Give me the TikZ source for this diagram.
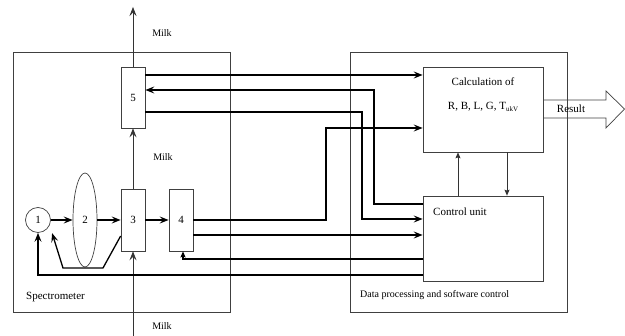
\documentclass[tikz,border=0pt]{standalone}
\usepackage{fontspec}
\setmainfont{Liberation Serif}
\usetikzlibrary{arrows.meta,shapes.geometric,calc}
\begin{document}
\begin{tikzpicture}[x=1pt,y=-1pt,
  thinbox/.style={draw=black!75,line width=0.7pt,inner sep=0pt},
  sig/.style={line width=1.3pt},
  tip/.style={-{Stealth[length=9pt,width=7pt,inset=3.5pt]}},
  smalltip/.style={-{Stealth[length=6pt,width=5pt,inset=1pt]}},
  flow/.style={draw=black!80,line width=0.7pt},
  lab/.style={font=\fontsize{11}{13}\selectfont,inner sep=0pt},
  slab/.style={font=\fontsize{10}{12}\selectfont,inner sep=0pt}]
\useasboundingbox (0,0) rectangle (625,336);
% outer boxes
\node[thinbox,minimum width=217pt,minimum height=260pt,anchor=north west] (spec) at (13,52) {};
\node[thinbox,minimum width=217pt,minimum height=260pt,anchor=north west] (data) at (350,52) {};
% spectrometer parts
\node[thinbox,circle,minimum size=25pt,lab] (c1) at (38,220) {1};
\node[thinbox,ellipse,minimum width=24pt,minimum height=94pt,lab] (e2) at (85,220) {2};
\node[thinbox,minimum width=24pt,minimum height=62pt,lab] (b3) at (133,220) {3};
\node[thinbox,minimum width=24pt,minimum height=62pt,lab] (b4) at (181,220) {4};
\node[thinbox,minimum width=24pt,minimum height=61pt,lab] (b5) at (133,97.5) {5};
% processing parts
\node[thinbox,minimum width=120pt,minimum height=85pt] (calc) at (483,109.5) {};
\node[thinbox,minimum width=120pt,minimum height=85pt] (ctrl) at (483,238.5) {};
\node[lab] (calct1) at (483,82) {Calculation of};
\node[lab] (calct2) at (483,107) {R, B, L, G, T\raisebox{-0.35ex}{\fontsize{7}{8}\selectfont ukV}};
\node[lab,anchor=west] (ctrlt) at (433,212) {Control unit};
\node[lab,anchor=west] (spect) at (26,297) {Spectrometer};
\node[slab,anchor=west] (datat) at (360,295) {Data processing and software control};
% result arrow
\draw[thinbox] (calc.east |- 0,100) -- (606,100) -- (606,91) -- (624.5,109) -- (606,128) -- (606,118) -- (calc.east |- 0,118);
\node[lab] (res) at (571,109) {Result};
% milk flow
\coordinate (mtop) at (133,7);
\coordinate (mbot) at (133,336);
\draw[flow,tip] (b5.north) -- (mtop);
\draw[flow,tip] (b3.north) -- (b5.south);
\draw[flow,tip] (mbot) -- (b3.south);
\node[slab] (milk1) at (162,33) {Milk};
\node[slab] (milk2) at (163,157) {Milk};
\node[slab] (milk3) at (162,326) {Milk};
% spectrometer signal chain
\draw[sig,tip] (c1.east) -- (e2.west);
\draw[sig,tip] (e2.east) -- (b3.west);
\draw[sig,tip] (b3.east) -- (b4.west);
\draw[sig,tip] (b3.west |- 0,236) -- (103,268) -- (63,268) -- ($(c1.south east)+(5,4)$);
% connections
\draw[sig,tip] (b5.east |- 0,75) -- (calc.west |- 0,75);
\draw[sig,tip] (ctrl.west |- 0,204) -- (374,204) -- (374,90) -- (b5.east |- 0,90);
\draw[sig,tip] (b5.east |- 0,112) -- (362,112) -- (362,219) -- (ctrl.west |- 0,219);
\draw[sig,tip] (b4.east |- 0,220) -- (326,220) -- (326,128) -- (calc.west |- 0,128);
\draw[sig,tip] (b4.east |- 0,235) -- (ctrl.west |- 0,235);
\draw[sig,smalltip] (ctrl.west |- 0,259) -- (183,259) -- ($(b4.south)+(2,0)$);
\draw[sig,tip] (ctrl.west |- 0,275) -- (38,275) -- (c1.south);
\draw[flow,smalltip] (ctrl.north -| 458,0) -- (calc.south -| 458,0);
\draw[flow,smalltip] (calc.south -| 507,0) -- (ctrl.north -| 507,0);
\end{tikzpicture}
\end{document}
